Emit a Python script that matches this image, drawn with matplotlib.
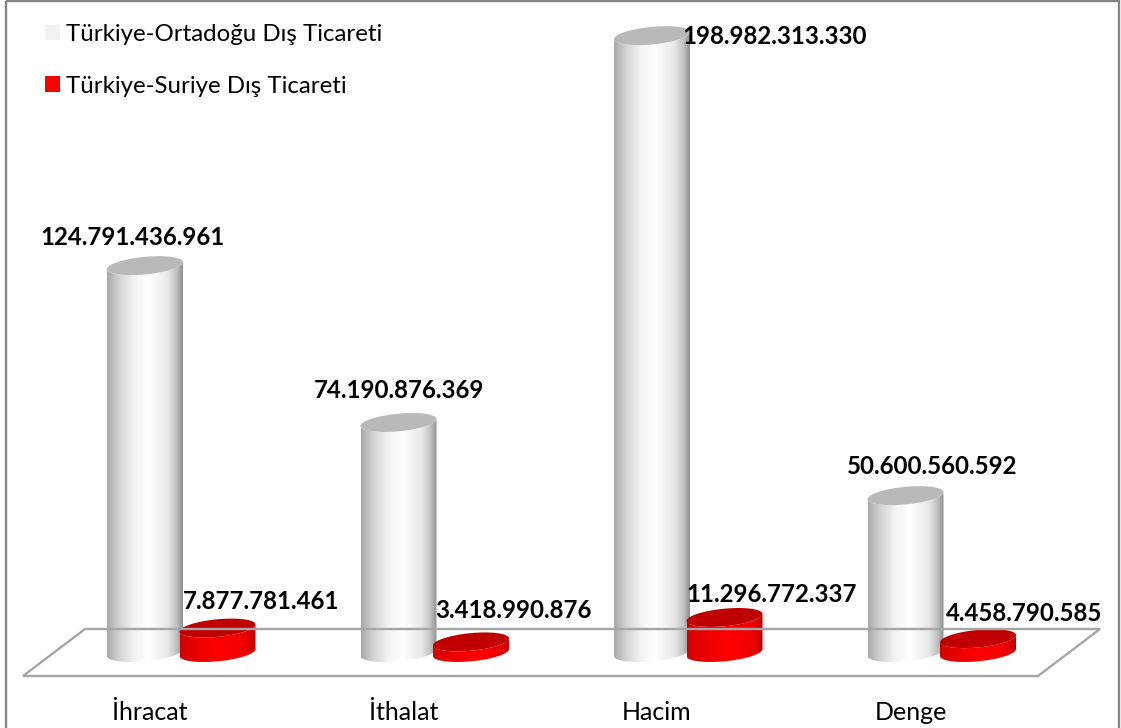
import numpy as np
import matplotlib
matplotlib.use("Agg")
import matplotlib.pyplot as plt
from matplotlib.colors import LinearSegmentedColormap
from matplotlib.patches import Patch, PathPatch, Polygon, Rectangle
from matplotlib.path import Path
from matplotlib.transforms import Affine2D

categories = ["İhracat", "İthalat", "Hacim", "Denge"]
middle_east = [124791436961, 74190876369, 198982313330, 50600560592]
syria = [7877781461, 3418990876, 11296772337, 4458790585]
series_names = ["Türkiye-Ortadoğu Dış Ticareti", "Türkiye-Suriye Dış Ticareti"]

W, H = 1121, 728
plt.rcParams['font.family'] = ['Lato', 'DejaVu Sans']
fig = plt.figure(figsize=(W / 100, H / 100), dpi=100, facecolor="white")

AX_BOTTOM = 690
ax = fig.add_axes([0, (H - AX_BOTTOM) / H, 1, AX_BOTTOM / H])
ax.set_facecolor("none")
for s in ax.spines.values():
    s.set_visible(False)

PX_X = 253.5            # pixels per category
PX_V = 3.10 / 1e9       # pixels per value unit
Y0 = 652.5              # pixel row of value 0
X0 = 150.0              # pixel column of category 0
xlim = (-X0 / PX_X, (W - X0) / PX_X)
ylim = ((Y0 - AX_BOTTOM) / PX_V, Y0 / PX_V)

px = Affine2D().scale(1, -1).translate(0, H)  # top-left pixel coordinates

# frame + floor drawn in figure pixels
fig.add_artist(Rectangle((6, 1), 1112.5, 740, transform=px, fill=False,
                         ec="#868686", lw=1.7))
fig.add_artist(Polygon([(85, 629), (1100, 629), (1038, 676), (23, 676)], closed=True,
                       transform=px, fill=False, ec="#a6a6a6", lw=1.7))

cm_white = LinearSegmentedColormap.from_list("w", [(0, "#a8a8a8"), (.14, "#cfcfcf"), (.35, "#f2f2f2"),
                                                   (.55, "#ffffff"), (.8, "#e8e8e8"), (.92, "#c0c0c0"), (1, "#8e8e8e")])
cm_red = LinearSegmentedColormap.from_list("r", [(0, "#d40000"), (.3, "#f00000"), (.55, "#ff0000"),
                                                 (.85, "#f00000"), (1, "#bc0000")])

A, K, B = 38.0, 3.5, 8.8   # ellipse half width, tilt and half height, pixels
t = np.linspace(0, 2 * np.pi, 121)
gradient = np.linspace(0, 1, 256).reshape(1, -1)


def cylinder(xc, value, cmap, top_color, z):
    ax_x = A / PX_X
    ex = ax_x * np.cos(t)
    ey = (K * np.cos(t) + B * np.sin(t)) / PX_V
    lower = (t >= np.pi)
    lx = ex[lower]
    ly = ey[lower]
    body = np.r_[np.c_[xc + lx, value + ly], np.c_[xc + lx[::-1], 0 + ly[::-1]]]
    path = Path(np.r_[body, body[:1]], closed=True)
    im = ax.imshow(gradient, extent=[xc - ax_x, xc + ax_x, 0 - (B + K) / PX_V, value + (B + K) / PX_V],
                   cmap=cmap, aspect="auto", interpolation="bilinear", zorder=z, vmin=0, vmax=1)
    im.set_clip_path(PathPatch(path, transform=ax.transData))
    ax.add_patch(Polygon(np.c_[xc + ex, value + ey], closed=True, fc=top_color, ec="none", zorder=z + .1))


OFF_W, OFF_R = -5 / PX_X, 67.5 / PX_X
for i in range(len(categories)):
    cylinder(i + OFF_W, middle_east[i], cm_white, "#b9b9b9", 3)
for i in range(len(categories)):
    cylinder(i + OFF_R, syria[i], cm_red, "#c00000", 4)


def fmt(v):
    return f"{v:,}".replace(",", ".")


white_off = [(-12.5, 28), (1, 32), (123, -1), (26.5, 29)]
red_off = [(44, 27), (42, 31), (47, 23), (46, 25)]
LABEL_FS = 17.3
for i in range(len(categories)):
    ax.annotate(fmt(middle_east[i]), (i + OFF_W, middle_east[i]), xytext=(white_off[i][0] * .72, white_off[i][1] * .72),
                textcoords="offset points", ha="center", va="center", fontweight="bold", fontsize=LABEL_FS, color="black", zorder=6)
    ax.annotate(fmt(syria[i]), (i + OFF_R, syria[i]), xytext=(red_off[i][0] * .72, red_off[i][1] * .72),
                textcoords="offset points", ha="center", va="center", fontweight="bold", fontsize=LABEL_FS, color="black", zorder=6)

ax.set_xticks(range(len(categories)), categories)
ax.tick_params(axis="x", length=0, pad=8, labelsize=18, labelcolor="black")
ax.set_yticks([])
ax.set_xlim(xlim)
ax.set_ylim(ylim)

handles = [Patch(fc="#f2f2f2", ec="none"), Patch(fc="#ff0000", ec="none")]
fs = 17.3
fpx = fs * 100 / 72
ax.legend(handles, series_names, loc="upper left", bbox_to_anchor=(45 / W, 1 - 24 / AX_BOTTOM),
          bbox_transform=ax.transAxes, frameon=False, fontsize=fs, borderpad=0, borderaxespad=0,
          handlelength=15 / fpx, handleheight=15 / fpx, handletextpad=6 / fpx, labelspacing=1.27,
          labelcolor="black")

fig.savefig("out.png", dpi=100)
